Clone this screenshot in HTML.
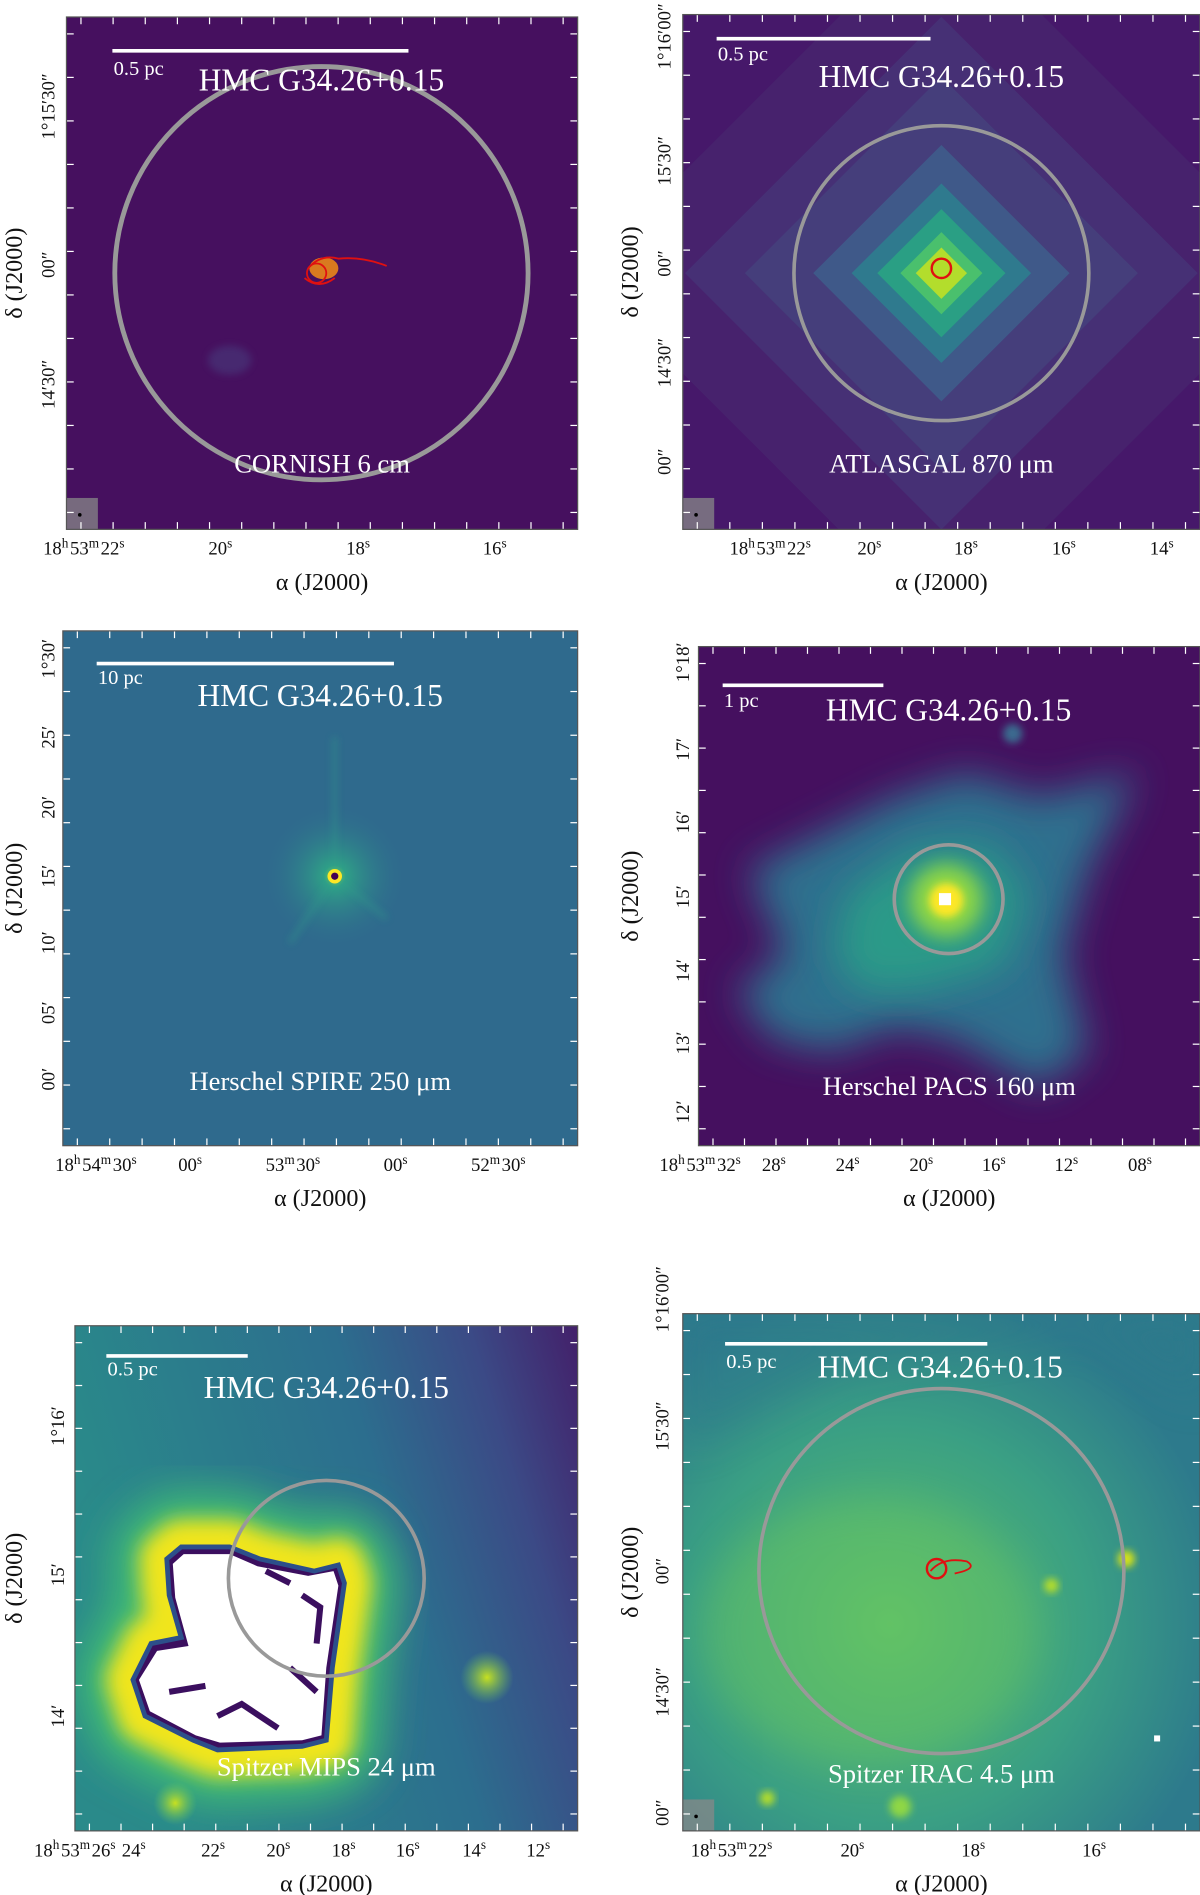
<!DOCTYPE html>
<html><head><meta charset="utf-8">
<style>
html,body{margin:0;padding:0;background:#fff;}
svg{display:block;font-family:"Liberation Serif",serif;}
</style></head>
<body>
<svg id="fig" width="1200" height="1895" viewBox="0 0 993 1568" xmlns="http://www.w3.org/2000/svg">
<defs>
 <filter id="blur8" x="-30%" y="-30%" width="160%" height="160%"><feGaussianBlur stdDeviation="8"/></filter>
 <filter id="blur16" x="-40%" y="-40%" width="180%" height="180%"><feGaussianBlur stdDeviation="16"/></filter>
 <filter id="blur4" x="-30%" y="-30%" width="160%" height="160%"><feGaussianBlur stdDeviation="3"/></filter>
 <radialGradient id="g3" cx="50%" cy="50%" r="50%"><stop offset="0" stop-color="#7ed34f"/><stop offset="0.15" stop-color="#2fa087"/><stop offset="1" stop-color="#2f6b8e" stop-opacity="0"/></radialGradient>
 <radialGradient id="g4" cx="50%" cy="50%" r="50%"><stop offset="0" stop-color="#d8e219"/><stop offset="0.3" stop-color="#35b779"/><stop offset="0.65" stop-color="#2c728e"/><stop offset="1" stop-color="#3b528b" stop-opacity="0"/></radialGradient>
 <linearGradient id="g5bg" x1="0" y1="0.3" x2="1" y2="0"><stop offset="0" stop-color="#2a8a8a"/><stop offset="0.55" stop-color="#2c6e8e"/><stop offset="0.8" stop-color="#3b4a86"/><stop offset="1" stop-color="#43206a"/></linearGradient>
 <radialGradient id="g6" cx="40%" cy="60%" r="65%"><stop offset="0" stop-color="#5cbf6a"/><stop offset="0.6" stop-color="#3a9f84"/><stop offset="1" stop-color="#2d7a8c"/></radialGradient>
 <radialGradient id="gspot" cx="50%" cy="50%" r="50%"><stop offset="0" stop-color="#c8e020"/><stop offset="1" stop-color="#6ccd5a" stop-opacity="0"/></radialGradient>
</defs>
<g id="root"></g>
</svg>
<script>
const NS="http://www.w3.org/2000/svg";
const root=document.getElementById('root');
function el(tag,attrs,parent,text){const e=document.createElementNS(NS,tag);for(const k in attrs)e.setAttribute(k,attrs[k]);if(text!==undefined)e.textContent=text;(parent||root).appendChild(e);return e;}

// tick label data
const p1X=["18h53m22s","20s","18s","16s"], p1Y=["1°15′30″","00″","14′30″"];
const p2X=["18h53m22s","20s","18s","16s","14s"], p2Y=["1°16′00″","15′30″","00″","14′30″","00″"];
const p3X=["18h54m30s","00s","53m30s","00s","52m30s"], p3Y=["1°30′","25′","20′","15′","10′","05′","00′"];
const p4X=["18h53m32s","28s","24s","20s","16s","12s","08s"], p4Y=["1°18′","17′","16′","15′","14′","13′","12′"];
const p5X=["18h53m26s 24s","22s","20s","18s","16s","14s","12s"], p5Y=["1°16′","15′","14′"];
const p6X=["18h53m22s","20s","18s","16s"], p6Y=["1°16′00″","15′30″","00″","14′30″","00″"];

const panels=[
 {n:'cornish',x0:55,y0:14,x1:478,y1:438,bg:'#46105f',xl:p1X,xp:[70,183,297,410],yl:p1Y,yp:[88,219,318],yax:12,ylx:40,bar:[93,338,42],bl:'0.5 pc',bly:62,title:[266,75],cap:'CORNISH 6 cm',capy:391,circ:[266,226,171,4],beam:true},
 {n:'atlasgal',x0:565,y0:12,x1:993,y1:438,bg:'#46186a',xl:p2X,xp:[638,720,800,881,962],yl:p2Y,yp:[30,133,218,300,382],yax:522,ylx:550,bar:[593,770,32],bl:'0.5 pc',bly:50,title:[779,72],cap:'ATLASGAL 870 μm',capy:391,circ:[779,226,122,3],beam:true},
 {n:'spire',x0:52,y0:522,x1:478,y1:948,bg:'#2f6a8d',xl:p3X,xp:[80,158,243,328,413],yl:p3Y,yp:[545,610,668,725,780,838,893],yax:12,ylx:40,bar:[80,326,549],bl:'10 pc',bly:566,title:[265,584],cap:'Herschel SPIRE 250 μm',capy:902},
 {n:'pacs',x0:578,y0:535,x1:993,y1:948,bg:'#45105f',xl:p4X,xp:[580,641,702,763,823,883,944],yl:p4Y,yp:[548,620,680,742,803,863,920],yax:522,ylx:565,bar:[598,731,567],bl:'1 pc',bly:585,title:[785,596],cap:'Herschel PACS 160 μm',capy:906,circ:[785,744,45,3]},
 {n:'mips',x0:62,y0:1097,x1:478,y1:1515,bg:'url(#g5bg)',xl:p5X,xp:[75,177,231,285,338,393,446],yl:p5Y,yp:[1180,1303,1420],yax:12,ylx:48,bar:[88,205,1122],bl:'0.5 pc',bly:1138,title:[270,1157],cap:'Spitzer MIPS 24 μm',capy:1469,circ:[270,1306,81,3]},
 {n:'irac',x0:565,y0:1087,x1:993,y1:1515,bg:'url(#g6)',xl:p6X,xp:[606,706,806,906],yl:p6Y,yp:[1075,1180,1300,1400,1500],yax:522,ylx:548,bar:[600,817,1112],bl:'0.5 pc',bly:1132,title:[778,1140],cap:'Spitzer IRAC 4.5 μm',capy:1475,circ:[779,1300,151,3],beam:true}
];

function tickText(g,str,x,y,anchor){
  const t=el('text',{x:x,y:y,'font-size':15.5,'text-anchor':anchor||'middle',fill:'#111'},g);
  const parts=str.split(/([hms])/);
  parts.forEach(p=>{if(p==='h'||p==='m'||p==='s'){el('tspan',{'font-size':11,dy:-6},t,p);el('tspan',{dy:6,'font-size':15.5},t,'\u200a');}else if(p)el('tspan',{},t,p);});
  return t;
}

panels.forEach((p,i)=>{
  const g=el('g',{});
  
  
  const w=p.x1-p.x0,h=p.y1-p.y0;
  el('rect',{x:p.x0,y:p.y0,width:w,height:h,fill:p.bg},g);
  const cx=(p.x0+p.x1)/2;
  const cl=el('clipPath',{id:'clip'+i},g);
  el('rect',{x:p.x0,y:p.y0,width:w,height:h},cl);
  const inner=el('g',{'clip-path':`url(#clip${i})`},g);
  if(p.n==='cornish'){
    el('ellipse',{cx:190,cy:298,rx:18,ry:12,fill:'#4a4f8a',opacity:0.4,filter:'url(#blur4)'},inner);
    el('ellipse',{cx:268,cy:222,rx:12,ry:9,fill:'#d97a1f'},inner);
    el('path',{d:'M255 222 q10 -12 25 -8 q20 -2 40 6 M252 230 q12 10 25 0',stroke:'#e01010','stroke-width':1.5,fill:'none'},inner);
    el('circle',{cx:262,cy:226,r:8,fill:'none',stroke:'#e01010','stroke-width':1.5},inner);
  }
  if(p.n==='atlasgal'){
    const sizes=[420,300,230,150,105,75,48,30],cols=['#472a6f','#463a7c','#44477f','#3f5b8a','#2e7c8e','#2aa184','#4cc26c','#b8de29'];
    sizes.forEach((s,k)=>el('rect',{x:779-s/2,y:226-s/2,width:s,height:s,fill:cols[k],transform:'rotate(45 779 226)',opacity:k<3?0.6:0.95},inner));
    el('circle',{cx:779,cy:222,r:8,fill:'none',stroke:'#e01010','stroke-width':2},inner);
  }
  if(p.n==='spire'){
    el('circle',{cx:277,cy:725,r:60,fill:'url(#g3)'},inner);
    el('path',{d:'M277 725 L277 610 M277 725 L240 780 M277 725 L320 760',stroke:'#2f9b8a','stroke-width':3,fill:'none',opacity:0.6,filter:'url(#blur4)'},inner);
    el('circle',{cx:277,cy:725,r:6,fill:'#fde725'},inner);
    el('circle',{cx:277,cy:725,r:3,fill:'#440154'},inner);
  }
  if(p.n==='pacs'){
    el('path',{d:'M620 720 L680 690 L740 660 L800 640 L860 660 L940 640 L900 720 L880 790 L900 870 L860 900 L790 860 L740 850 L690 870 L640 860 L610 820 L650 790 Z',fill:'#2e6f8e',filter:'url(#blur16)'},inner);
    el('path',{d:'M700 740 L760 700 L820 700 L850 740 L830 800 L760 820 L710 820 L690 790 Z',fill:'#2a9a88',filter:'url(#blur16)'},inner);
    el('circle',{cx:783,cy:745,r:30,fill:'#8fd744',filter:'url(#blur8)'},inner);
    el('circle',{cx:783,cy:745,r:14,fill:'#fde725',filter:'url(#blur4)'},inner);
    el('circle',{cx:838,cy:607,r:8,fill:'#3b6a8f',filter:'url(#blur4)'},inner);
    el('rect',{x:777,y:739,width:10,height:10,fill:'#fff'},inner);
  }
  const mb='M138 1290 L150 1280 L190 1280 L215 1290 L260 1300 L280 1295 L285 1310 L275 1380 L270 1440 L250 1445 L180 1448 L160 1440 L120 1420 L110 1390 L125 1360 L150 1355 L140 1320 Z';
  if(p.n==='mips'){
    el('path',{d:mb,fill:'#3fbc73',stroke:'#3fbc73','stroke-width':90,'stroke-linejoin':'round',filter:'url(#blur16)'},inner);
    el('path',{d:mb,fill:'#fde725',stroke:'#f0e51c','stroke-width':45,'stroke-linejoin':'round',filter:'url(#blur8)'},inner);
    el('circle',{cx:403,cy:1388,r:22,fill:'url(#gspot)'},inner);
    el('circle',{cx:145,cy:1492,r:18,fill:'url(#gspot)'},inner);
    el('path',{d:mb,fill:'#3b0f5f',stroke:'#2c4f8a','stroke-width':4},inner);
    el('path',{d:'M143 1294 L152 1286 L190 1286 L213 1296 L255 1304 L276 1300 L280 1312 L270 1380 L266 1436 L250 1440 L182 1442 L162 1436 L124 1416 L115 1390 L130 1366 L156 1362 L145 1322 Z',fill:'#fff'},inner);
    el('path',{d:'M220 1300 L240 1310 M250 1320 L265 1330 L262 1360 M240 1380 L262 1400 M180 1420 L200 1410 L230 1430 M140 1400 L170 1395',stroke:'#3b0f5f','stroke-width':5,fill:'none'},inner);
  }
  if(p.n==='irac'){
    el('ellipse',{cx:720,cy:1350,rx:140,ry:110,fill:'#6cc85e',opacity:0.4,filter:'url(#blur16)'},inner);
    el('path',{d:'M565 1200 L700 1130 L900 1100 L993 1160 L993 1087 L565 1087 Z',fill:'#2f7a8c',opacity:0.5,filter:'url(#blur16)'},inner);
    el('circle',{cx:932,cy:1290,r:7,fill:'#d8e219',filter:'url(#blur4)'},inner);
    el('circle',{cx:870,cy:1312,r:6,fill:'#b5de2b',filter:'url(#blur4)'},inner);
    el('circle',{cx:635,cy:1488,r:6,fill:'#b5de2b',filter:'url(#blur4)'},inner);
    el('circle',{cx:745,cy:1495,r:9,fill:'#8fd744',filter:'url(#blur4)'},inner);
    el('circle',{cx:775,cy:1298,r:8,fill:'none',stroke:'#e01010','stroke-width':2},inner);
    el('path',{d:'M770 1300 q10 -12 30 -8 q10 6 -10 10',stroke:'#e01010','stroke-width':1.5,fill:'none'},inner);
    el('rect',{x:955,y:1436,width:5,height:5,fill:'#fff'},inner);
  }
  if(p.circ){const c=el('circle',{cx:p.circ[0],cy:p.circ[1],r:p.circ[2],fill:'none',stroke:'#999','stroke-width':p.circ[3]},g);
    }
  if(p.beam){const b=el('rect',{x:p.x0,y:p.y1-26,width:26,height:26,fill:'#888',opacity:0.75},g);
    el('circle',{cx:p.x0+11,cy:p.y1-12,r:1.5,fill:'#000'},g);}
  const sb=el('line',{x1:p.bar[0],x2:p.bar[1],y1:p.bar[2],y2:p.bar[2],stroke:'#fff','stroke-width':3},g);
  
  const sl=el('text',{x:p.bar[0]+1,y:p.bly,'font-size':17,fill:'#fff'},g,p.bl);
  
  const tt=el('text',{x:p.title[0],y:p.title[1],'font-size':26,'text-anchor':'middle',fill:'#fff'},g,'HMC G34.26+0.15');
  
  const cp=el('text',{x:cx,y:p.capy,'font-size':22,'text-anchor':'middle',fill:'#fff'},g,p.cap);
  
  const tg=el('g',{stroke:'#fff','stroke-width':1},g);
  for(let k=0;k<16;k++){const x=p.x0+12+k*(w-24)/15;el('line',{x1:x,x2:x,y1:p.y0,y2:p.y0+6},tg);el('line',{x1:x,x2:x,y1:p.y1,y2:p.y1-6},tg);}
  for(let k=0;k<12;k++){const y=p.y0+14+k*(h-28)/11;el('line',{x1:p.x0,x2:p.x0+6,y1:y,y2:y},tg);el('line',{x1:p.x1,x2:p.x1-6,y1:y,y2:y},tg);}
  el('rect',{x:p.x0,y:p.y0,width:w,height:h,fill:'none',stroke:'#555','stroke-width':1},g);
  p.xl.forEach((s,k)=>{const t=tickText(g,s,p.xp[k],p.y1+21,'middle');});
  p.yl.forEach((s,k)=>{const t=el('text',{x:0,y:0,'font-size':15.5,'text-anchor':'middle',fill:'#111',transform:`translate(${p.ylx+5},${p.yp[k]}) rotate(-90)`},g,s);});
  const xa=el('text',{x:cx,y:p.y1+50,'font-size':20,'text-anchor':'middle',fill:'#111'},g,'α (J2000)');
  
  const ya=el('text',{x:0,y:0,'font-size':20,'text-anchor':'middle',fill:'#111',transform:`translate(${p.yax+6},${(p.y0+p.y1)/2}) rotate(-90)`},g,'δ (J2000)');
  
});
</script>
</body></html>
